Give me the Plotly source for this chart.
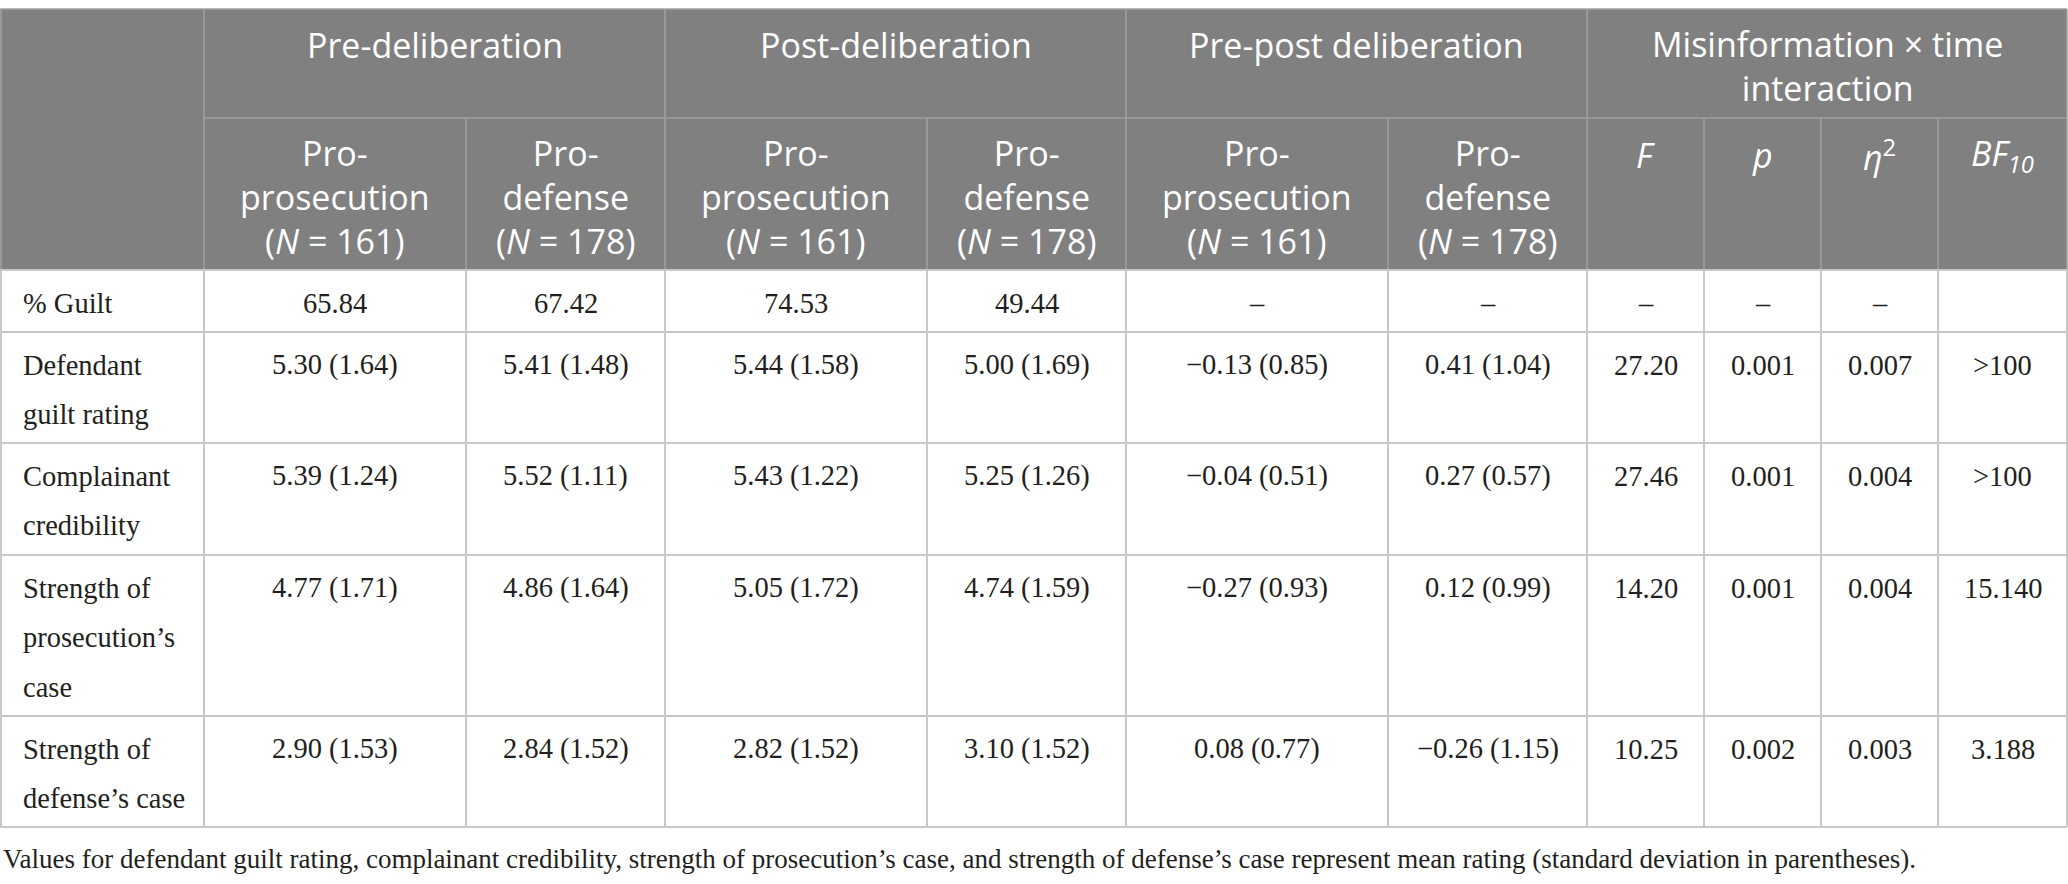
import plotly.graph_objects as go

# table content
group_titles = ["Pre-deliberation", "Post-deliberation", "Pre-post deliberation",
                "Misinformation × time<br>interaction"]
sub_titles = ["Pro-<br>prosecution<br>(<i>N</i> = 161)", "Pro-<br>defense<br>(<i>N</i> = 178)",
              "Pro-<br>prosecution<br>(<i>N</i> = 161)", "Pro-<br>defense<br>(<i>N</i> = 178)",
              "Pro-<br>prosecution<br>(<i>N</i> = 161)", "Pro-<br>defense<br>(<i>N</i> = 178)",
              "<i>F</i>", "<i>p</i>", "<i>η</i><sup>2</sup>", "<i>BF</i><sub><i>10</i></sub>"]
row_labels = ["% Guilt", "Defendant<br>guilt rating", "Complainant<br>credibility",
              "Strength of<br>prosecution’s<br>case", "Strength of<br>defense’s case"]
pre_prosecution = ["65.84", "5.30 (1.64)", "5.39 (1.24)", "4.77 (1.71)", "2.90 (1.53)"]
pre_defense = ["67.42", "5.41 (1.48)", "5.52 (1.11)", "4.86 (1.64)", "2.84 (1.52)"]
post_prosecution = ["74.53", "5.44 (1.58)", "5.43 (1.22)", "5.05 (1.72)", "2.82 (1.52)"]
post_defense = ["49.44", "5.00 (1.69)", "5.25 (1.26)", "4.74 (1.59)", "3.10 (1.52)"]
change_prosecution = ["–", "−0.13 (0.85)", "−0.04 (0.51)", "−0.27 (0.93)", "0.08 (0.77)"]
change_defense = ["–", "0.41 (1.04)", "0.27 (0.57)", "0.12 (0.99)", "−0.26 (1.15)"]
f_values = ["–", "27.20", "27.46", "14.20", "10.25"]
p_values = ["–", "0.001", "0.001", "0.001", "0.002"]
eta_sq = ["–", "0.007", "0.004", "0.004", "0.003"]
bf10 = ["", ">100", ">100", "15.140", "3.188"]
footnote = ("Values for defendant guilt rating, complainant credibility, strength of "
            "prosecution’s case, and strength of defense’s case represent mean rating "
            "(standard deviation in parentheses).")

columns = [pre_prosecution, pre_defense, post_prosecution, post_defense,
           change_prosecution, change_defense, f_values, p_values, eta_sq, bf10]

# geometry (pixels)
W, H = 2068, 884
col_edges = [0, 204, 466, 665, 927, 1126, 1388, 1587, 1704, 1821, 1938, 2067]
group_edges = [204, 665, 1126, 1587, 2067]
head_top, head_mid, head_bot = 9, 118, 270
row_edges = [270, 332, 443, 555, 716, 827]
body_step = 49.5
head_step = 41.5

header_bg = "#808080"
header_line = "#a0a0a0"
body_line = "#c8c8c8"
head_font = dict(family="Open Sans", size=34, color="white")
body_font = dict(family="Liberation Serif", size=28.5, color="#231f20")
note_font = dict(family="Liberation Serif", size=27, color="#231f20")

annotations = []
shapes = []


def put_block(text, x, y_first, step, font):
    # header cells: one text block, centred on its lines
    n = text.count("<br>") + 1
    annotations.append(dict(x=x, y=y_first + (n - 1) * step / 2, text=text, xref="x",
                            yref="y", showarrow=False, xanchor="center",
                            yanchor="middle", align="center", font=font))


def put_lines(text, x, y0, step, font, xanchor="center"):
    for k, part in enumerate(text.split("<br>")):
        if not part:
            continue
        annotations.append(dict(x=x, y=y0 + k * step, text=part, xref="x", yref="y",
                                showarrow=False, xanchor=xanchor, yanchor="middle",
                                font=font))


def line(x0, y0, x1, y1, color, width=1.5):
    shapes.append(dict(type="line", x0=x0, y0=y0, x1=x1, y1=y1, xref="x", yref="y",
                       line=dict(color=color, width=width)))


# header block
shapes.append(dict(type="rect", x0=0, y0=head_top, x1=col_edges[-1], y1=head_bot,
                   xref="x", yref="y", fillcolor=header_bg, line=dict(width=0),
                   layer="below"))
line(0, head_top, col_edges[-1], head_top, header_line)
line(col_edges[1], head_mid, col_edges[-1], head_mid, header_line)
for gx in group_edges:
    line(gx, head_top, gx, head_mid, header_line)
for cx in col_edges[1:]:
    line(cx, head_mid, cx, head_bot, header_line)
line(1, head_top, 1, head_bot, header_line)

for g, title in enumerate(group_titles):
    cx = (group_edges[g] + group_edges[g + 1]) / 2
    put_block(title, cx, head_top + 36, head_step, head_font)
for c, title in enumerate(sub_titles):
    cx = (col_edges[c + 1] + col_edges[c + 2]) / 2
    put_block(title, cx, head_mid + 37, head_step, head_font)

# body grid
for ry in row_edges:
    line(0, ry, col_edges[-1], ry, body_line, 2)
for cx in col_edges:
    line(max(cx, 1), row_edges[0], max(cx, 1), row_edges[-1], body_line, 2)

for r, label in enumerate(row_labels):
    top = row_edges[r]
    put_lines(label, 21, top + 33, body_step, body_font, xanchor="left")
    for c, col in enumerate(columns):
        cx = (col_edges[c + 1] + col_edges[c + 2]) / 2
        put_lines(col[r], cx, top + 33, body_step, body_font)

annotations.append(dict(x=1, y=859, text=footnote, xref="x", yref="y", showarrow=False,
                        xanchor="left", yanchor="middle", font=note_font))

fig = go.Figure()
fig.update_layout(
    width=W, height=H,
    margin=dict(l=0, r=0, t=0, b=0),
    paper_bgcolor="white", plot_bgcolor="white",
    xaxis=dict(range=[0, W], visible=False, fixedrange=True),
    yaxis=dict(range=[H, 0], visible=False, fixedrange=True),
    shapes=shapes, annotations=annotations,
    showlegend=False,
)
fig.write_html("out.html", config={"displayModeBar": False},
               post_script="document.body.style.margin = '0px';")
